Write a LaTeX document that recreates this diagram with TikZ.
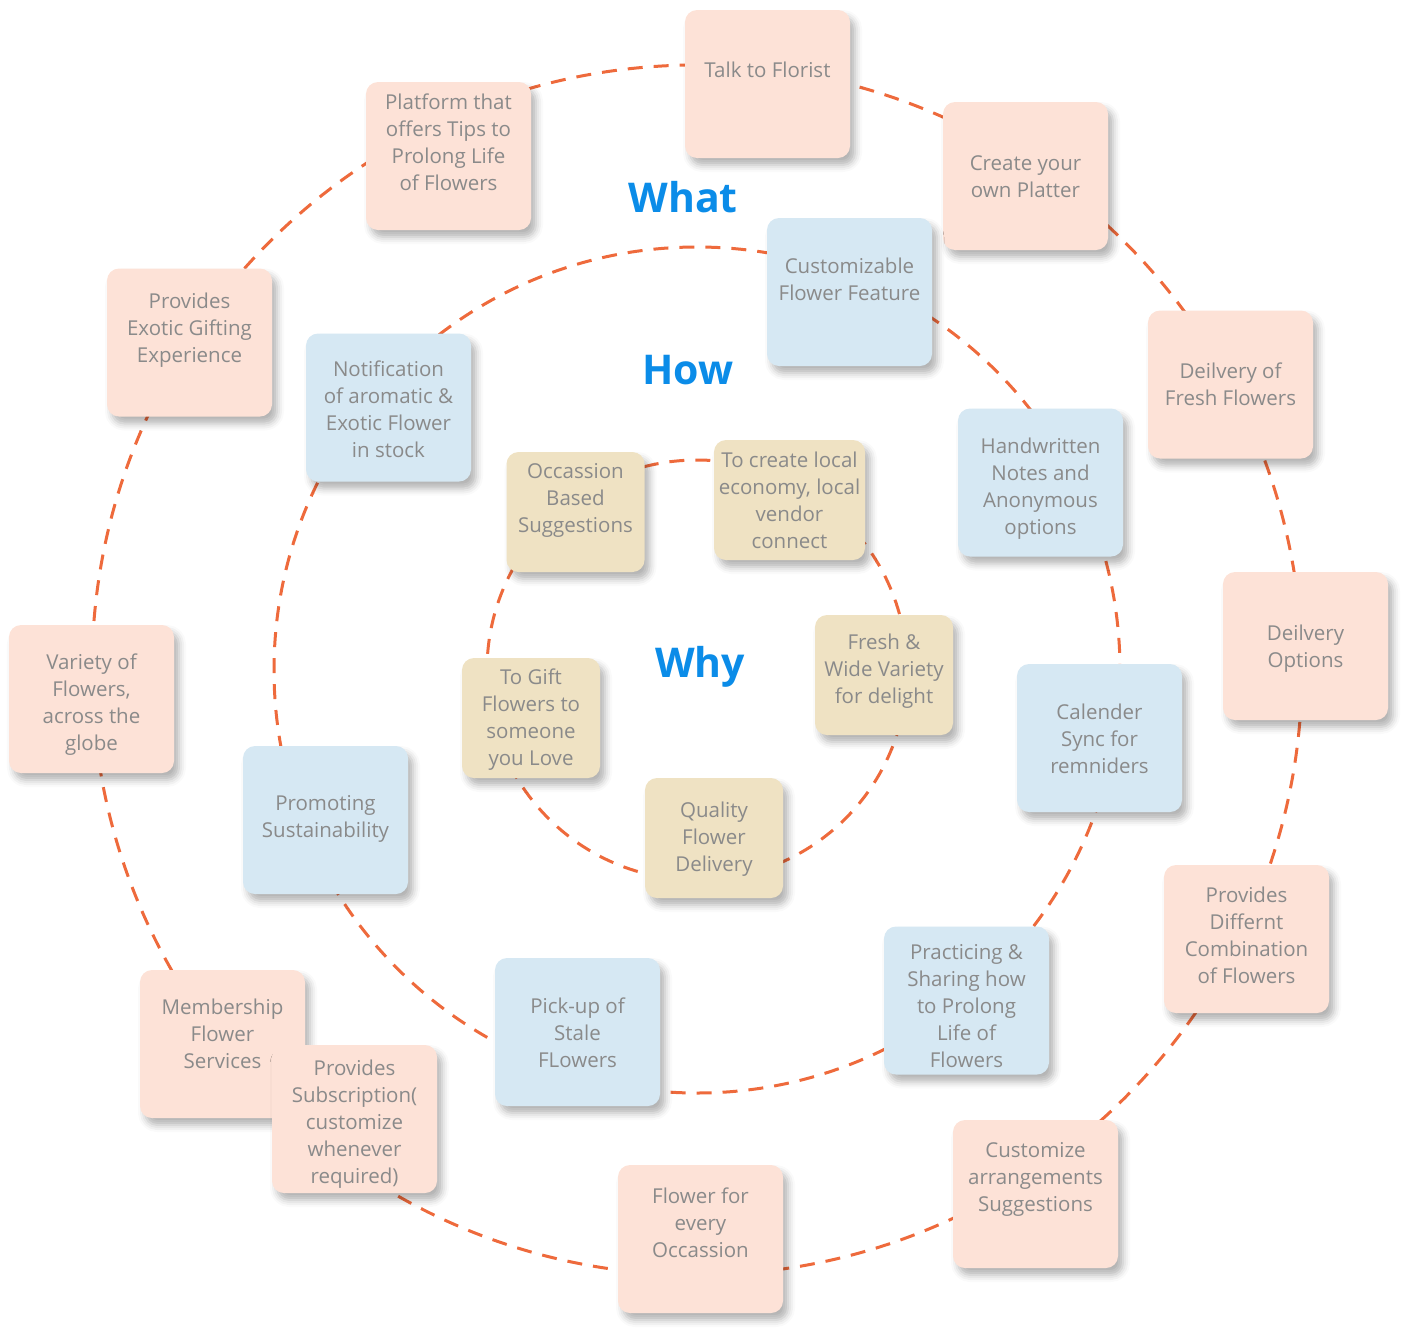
\documentclass[tikz,border=0pt]{standalone}
\usepackage{fontspec}
\setmainfont{Open Sans}
\usetikzlibrary{shadows.blur}
\definecolor{ringorange}{HTML}{EE6A3C}
\definecolor{pinkfill}{HTML}{FDE2D7}
\definecolor{bluefill}{HTML}{D6E8F3}
\definecolor{tanfill}{HTML}{EFE2C3}
\definecolor{boxtext}{HTML}{8A8A8A}
\definecolor{headblue}{HTML}{0B8CE8}
\begin{document}
\begin{tikzpicture}[
        x=1pt, y=-1pt,
        ring/.style={draw=ringorange, line width=3pt, dash pattern=on 15pt off 11pt},
        card/.style={rounded corners=12pt, minimum width=165pt, minimum height=148pt,
          align=center, text=boxtext, font=\fontsize{20.5}{27}\selectfont, text depth=0pt,
          blur shadow={shadow xshift=5pt, shadow yshift=-7pt, shadow blur radius=7pt, shadow opacity=30}},
        what/.style={card, fill=pinkfill},
        how/.style={card, fill=bluefill},
        why/.style={card, fill=tanfill, minimum width=138pt, minimum height=120pt},
        head/.style={text=headblue, font=\fontsize{41}{41}\selectfont\bfseries}
        ]
        \useasboundingbox (0,0) rectangle (1415,1341);
        \coordinate (c) at (697,670);

        % the three rings
        \draw[ring] (c) circle[radius=605];
        \draw[ring] (c) circle[radius=423];
        \draw[ring] (c) circle[radius=210];

        % what
        \node[what, text height=14pt, text depth=28pt] (t1) at (767.5,84) {Talk to Florist};
        \foreach \n/\x/\y/\h/\txt in {
            t2/1025.5/176/42/{Create your\\own Platter},
            t3/1230.5/384.5/41/{Deilvery of\\Fresh Flowers},
            t4/1305.5/646/42/{Deilvery\\Options},
            t5/1246.5/939/88/{Provides\\Differnt\\Combination\\of Flowers},
            t6/1035.5/1194/34/{Customize\\arrangements\\Suggestions},
            t7/700.5/1239/36/{Flower for\\every\\Occassion},
            t8/222.5/1044/48/{Membership\\Flower\\Services},
            t9/354.5/1119/128/{Provides\\Subscription(\\customize\\whenever\\required)},
            t10/91.5/699/102/{Variety of\\Flowers,\\across the\\globe},
            t11/189.5/342.5/39/{Provides\\Exotic Gifting\\Experience},
            t12/448.5/156/68/{Platform that\\offers Tips to\\Prolong Life\\of Flowers}} {
          \node[what, text height=\h pt] (\n) at (\x,\y) {\txt};
        }

        % how
        \foreach \n/\x/\y/\h/\txt in {
            h1/849.5/292/16/{Customizable\\Flower Feature},
            h2/1040.5/482.5/103/{Handwritten\\Notes and\\Anonymous\\options},
            h3/1099.5/738/70/{Calender\\Sync for\\remniders},
            h4/966.5/1000.5/133/{Practicing \&\\Sharing how\\to Prolong\\Life of\\Flowers},
            h5/577.5/1032/70/{Pick-up of\\Stale\\FLowers},
            h6/325.5/820/34/{Promoting\\Sustainability},
            h7/388.5/407.5/99/{Notification\\of aromatic \&\\Exotic Flower\\in stock}} {
          \node[how, text height=\h pt] (\n) at (\x,\y) {\txt};
        }

        % why
        \foreach \n/\x/\y/\h/\txt in {
            y1/575.5/512/40/{Occassion\\Based\\Suggestions},
            y3/884/675/56/{Fresh \&\\Wide Variety\\for delight},
            y4/531/718/94/{To Gift\\Flowers to\\someone\\you Love},
            y5/714/838/66/{Quality\\Flower\\Delivery}} {
          \node[why, text height=\h pt] (\n) at (\x,\y) {\txt};
        }
        \node[why, minimum width=151pt, text height=96pt] (y2) at (789.5,500) {To create local\\economy, local\\vendor\\connect};

        \node[head] (lwhat) at (683,197) {What};
        \node[head] (lhow) at (688,370) {How};
        \node[head] (lwhy) at (700,667) {Why};
      \end{tikzpicture}
\end{document}
